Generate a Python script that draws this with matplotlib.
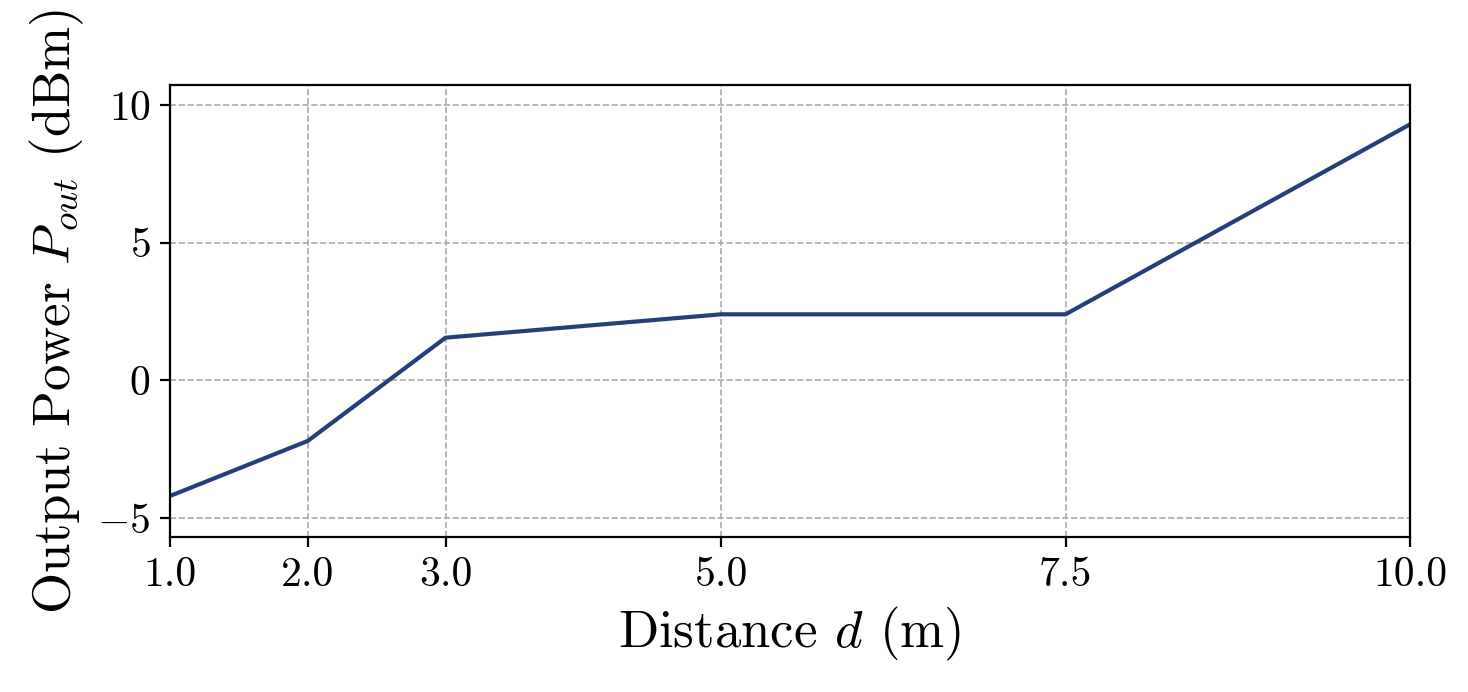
import matplotlib
matplotlib.use("Agg")
import matplotlib.pyplot as plt

distance = [1.0, 2.0, 3.0, 5.0, 7.5, 10.0]
power = [-4.2, -2.2, 1.55, 2.4, 2.4, 9.3]
xtick_labels = ["1.0", "2.0", "3.0", "5.0", "7.5", "10.0"]

plt.rcParams['font.family'] = 'serif'
plt.rcParams['font.serif'] = ['cmr10']
plt.rcParams['mathtext.fontset'] = 'cm'
plt.rcParams['axes.formatter.use_mathtext'] = True

fig = plt.figure(figsize=(7.34, 3.46), dpi=200)
ax = fig.add_axes([170/1468, 1-537/692, 1240/1468, 452/692])
ax.plot(distance, power, color='#263f7a', lw=1.5)
ax.set_xlim(1, 10)
ax.set_ylim(-5.69, 10.73)
ax.set_xticks(distance)
ax.set_xticklabels(xtick_labels)
ax.set_yticks([-5, 0, 5, 10])
ax.tick_params(labelsize=15)
ax.grid(True, ls='--', lw=0.6, color='#aaaaaa')
ax.set_xlabel(r'Distance $d$ (m)', fontsize=19)
ax.set_ylabel(r'Output Power $P_{out}$ (dBm)', fontsize=19)
fig.savefig('out.png', dpi=200)
